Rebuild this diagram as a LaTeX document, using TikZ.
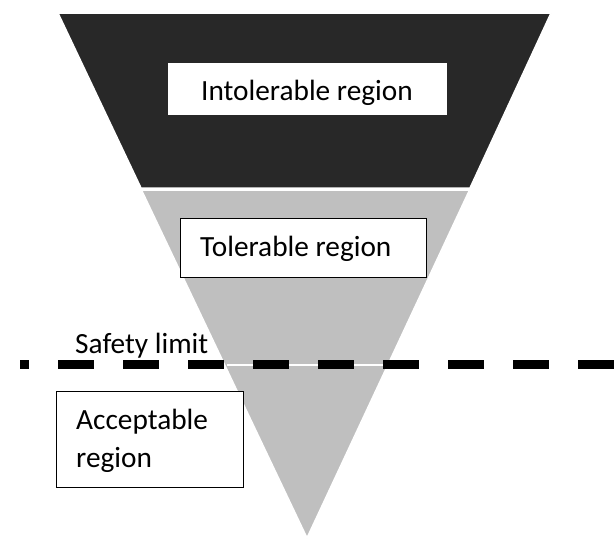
\documentclass[tikz,border=0pt]{standalone}
\usepackage{fontspec}
\setmainfont{Carlito}
\definecolor{darkzone}{HTML}{282828}
\definecolor{greyzone}{HTML}{BFBFBF}
\begin{document}
\begin{tikzpicture}[x=1pt,y=-1pt,
  lbl/.style={anchor=base west,inner sep=0pt,font=\fontsize{29.3}{38}\selectfont,text=black},
  boxed/.style={draw=black,line width=1pt,fill=white,anchor=north west,inner sep=0pt},
  zone/.style={draw=white,line width=1.5pt,line join=round}]
\useasboundingbox (0,0) rectangle (614,541);
% funnel
\coordinate (TL) at (58,13);
\coordinate (TR) at (551,13);
\coordinate (AP) at (307,538);
\fill[greyzone,zone] (141,189) -- (470,189) -- (AP) -- cycle;
\fill[darkzone,zone] (TL) -- (TR) -- (470,188) -- (141,188) -- cycle;
\draw[white,line width=1.5pt] (114,190) -- (500,190);
\coordinate (WL) at (227,364.5);
\coordinate (WR) at (386,364.5);
\draw[white,line width=2pt] (WL) -- (WR);
% safety limit line
\coordinate (DL) at (20,364.5);
\coordinate (DR) at (620,364.5);
\draw[black,line width=9.5pt,dash pattern=on 36pt off 29pt,dash phase=27pt] (DL) -- (DR);
% boxes
\node[boxed,draw=white,line width=0.5pt,minimum width=278pt,minimum height=51pt] (intolbox) at (168,63) {};
\node[lbl] (intol) at (201,100) {Intolerable region};
\node[boxed,minimum width=246pt,minimum height=59pt] (tolbox) at (180,218) {};
\node[lbl] (tol) at (200,256) {Tolerable region};
\node[boxed,minimum width=187pt,minimum height=96pt] (accbox) at (56,391) {};
\node[lbl] (acc1) at (76,429) {Acceptable};
\node[lbl] (acc2) at (76,467) {region};
\node[lbl] (safety) at (75,353) {Safety limit};
\end{tikzpicture}
\end{document}
